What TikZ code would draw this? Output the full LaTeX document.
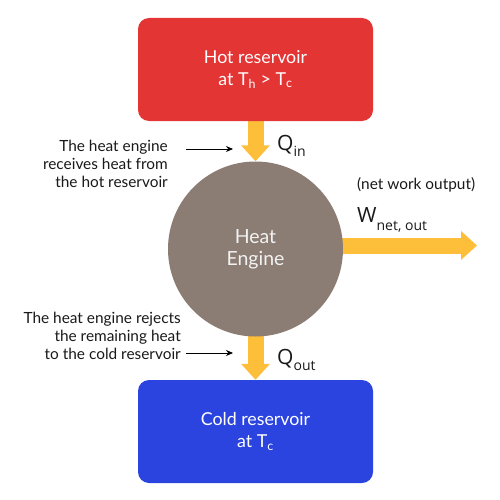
\documentclass[tikz,border=0pt]{standalone}
\usepackage{fontspec}
\setmainfont{Lato}
\newfontfamily\qfont{Open Sans}
\usetikzlibrary{arrows.meta,backgrounds}
\definecolor{hotred}{HTML}{E43535}
\definecolor{coldblue}{HTML}{2B44E0}
\definecolor{enginegray}{HTML}{8B7D74}
\definecolor{flowyellow}{HTML}{FDBF3A}
\newcommand{\lowsub}[2]{\raisebox{#1}{\fontsize{14}{14}\selectfont #2}}
\begin{document}
\begin{tikzpicture}[x=1pt,y=-1pt,
 reservoir/.style={rectangle, rounded corners=11pt, minimum width=235pt, minimum height=103pt, inner sep=0pt, text=white, align=center, font=\fontsize{17.8}{21.5}\selectfont},
 engine/.style={circle, fill=enginegray, minimum size=175pt, inner sep=0pt, text=white!95!black, align=center, font=\fontsize{19.5}{22}\selectfont},
 flow/.style={draw=flowyellow, line width=16pt, -{Triangle[width=28pt,length=16pt,fill=flowyellow]}},
 note/.style={align=right, font=\fontsize{15.4}{18}\selectfont, text=black!90, inner sep=0pt},
 pointer/.style={-{Stealth[length=7pt,width=6pt]}, line width=0.7pt, black},
 qlabel/.style={font=\qfont\fontsize{21}{24}\selectfont, inner sep=0pt, anchor=base west, text=black!90}
]
\useasboundingbox (0,0) rectangle (500,500);
\node[reservoir, fill=hotred] (hot) at (255.5,69.5) {Hot reservoir\\at T\textsubscript{h} > T\textsubscript{c}};
\node[reservoir, fill=coldblue] (cold) at (255.5,431.5) {Cold reservoir\\at T\textsubscript{c}};
\node[engine] (engine) at (255.5,249) {Heat\\Engine};
\coordinate (wtip) at (477,245.5);
\coordinate (wstart) at (engine.center |- wtip);
\begin{scope}[on background layer]
\draw[flow] (hot.south) -- (engine.north);
\draw[flow] (engine.center) -- (cold.north);
\draw[flow] (wstart) -- (wtip);
\end{scope}
\node[qlabel] (qin) at (277,150) {Q\lowsub{-6pt}{in}};
\node[qlabel] (qout) at (277,364) {Q\lowsub{-6pt}{out}};
\node[qlabel] (wnet) at (357,222) {W\lowsub{-8pt}{net, out}};
\node[note, anchor=base west] (wnote) at (357,189) {(net work output)};
\node[note, anchor=east] (recv) at (168,164) {The heat engine\\receives heat from\\the hot reservoir};
\node[note, anchor=east] (rej) at (181,336) {The heat engine rejects\\the remaining heat\\to the cold reservoir};
\coordinate (p1s) at (186,149);
\coordinate (p1e) at (233,149);
\coordinate (p2s) at (186,353);
\coordinate (p2e) at (233,353);
\draw[pointer] (p1s) -- (p1e);
\draw[pointer] (p2s) -- (p2e);
\end{tikzpicture}
\end{document}
